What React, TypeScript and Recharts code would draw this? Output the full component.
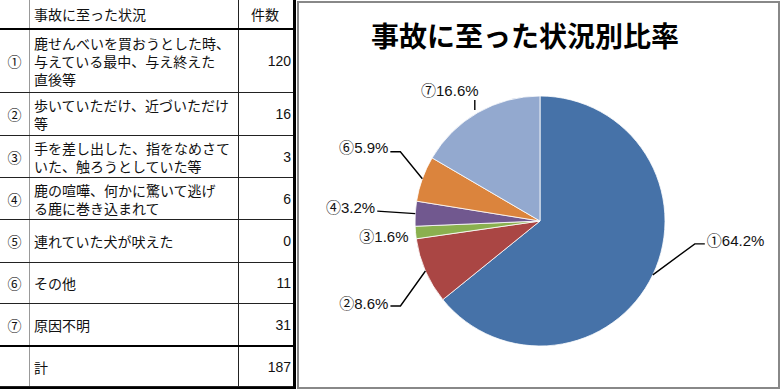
import React from 'react'
import { Cell, Pie, PieChart } from 'recharts'

// 事故に至った状況 (table rows + pie slices)
const marks = ['①', '②', '③', '④', '⑤', '⑥', '⑦']
const situations = [
  '鹿せんべいを買おうとした時、\n与えている最中、与え終えた\n直後等',
  '歩いていただけ、近づいただけ\n等',
  '手を差し出した、指をなめさて\nいた、触ろうとしていた等',
  '鹿の喧嘩、何かに驚いて逃げ\nる鹿に巻き込まれて',
  '連れていた犬が吠えた',
  'その他',
  '原因不明',
]
const counts = [120, 16, 3, 6, 0, 11, 31]
const title = '事故に至った状況別比率'
const headers = ['事故に至った状況', '件数']
const totalLabel = '計'

const colors = ['#4672A8', '#AA4644', '#8AB04F', '#71588F', '#4198AF', '#DB843D', '#93A9CF']

// label placement relative to the slice's outer edge point
const labelLayout: any[] = [
  { line: [[0, 0], [42, -31], [52, -31]], dx: 54, dy: -34, anchor: 'start' },
  { line: [[0, 0], [-25, 35], [-35, 35]], dx: -37, dy: 32, anchor: 'end' },
  { line: null, dx: -7, dy: 4, anchor: 'end' },
  { line: [[0, 0], [-38, -2.5]], dx: -40, dy: -6, anchor: 'end' },
  null,
  { line: [[0, 0], [-22, -27], [-32, -27]], dx: -34, dy: -31, anchor: 'end' },
  { line: [[-3, -2.5], [-3, -12.5]], dx: -28, dy: -22, anchor: 'middle' },
]

const rowHeights = [63, 43, 42, 42, 43, 41, 43]

const total = counts.reduce((a, b) => a + b, 0)
const pieData = marks.map((m, i) => ({ name: m, value: counts[i] }))

const font = "'Noto Sans CJK JP', sans-serif"

const renderLabel = (props: any) => {
  const { cx, cy, midAngle, outerRadius, index, value } = props
  const lay = labelLayout[index]
  if (!value || !lay) return null
  const rad = Math.PI / 180
  const ex = cx + outerRadius * Math.cos(-midAngle * rad)
  const ey = cy + outerRadius * Math.sin(-midAngle * rad)
  const pct = ((value / total) * 100).toFixed(1)
  return (
    <g>
      {lay.line && (
        <polyline
          points={lay.line.map((p: number[]) => `${ex + p[0]},${ey + p[1]}`).join(' ')}
          fill="none"
          stroke="#000"
          strokeWidth={1.4}
        />
      )}
      <text
        x={ex + lay.dx}
        y={ey + lay.dy}
        textAnchor={lay.anchor}
        dominantBaseline="central"
        fontSize={15}
        fill="#111"
        fontFamily="'Liberation Sans', 'Noto Sans CJK JP', sans-serif"
      >
        {marks[index]}
        {pct}%
      </text>
    </g>
  )
}

function Row({ h, mark, text, num, thick, header }: any) {
  return (
    <div
      style={{
        display: 'flex',
        height: h,
        boxSizing: 'border-box',
        borderBottom: thick ? '2px solid #000' : '1px solid #222',
      }}
    >
      <div
        style={{
          width: 30,
          boxSizing: 'border-box',
          borderRight: '1px solid #999',
          display: 'flex',
          alignItems: 'center',
          justifyContent: 'center',
        }}
      >
        {mark}
      </div>
      <div
        style={{
          width: 209,
          boxSizing: 'border-box',
          borderRight: '1px solid #222',
          display: 'flex',
          alignItems: 'center',
          paddingLeft: 4,
          whiteSpace: 'pre',
          lineHeight: '18px',
        }}
      >
        {text}
      </div>
      <div
        style={{
          width: 54,
          boxSizing: 'border-box',
          display: 'flex',
          alignItems: 'center',
          justifyContent: header ? 'center' : 'flex-end',
          paddingRight: 2,
          fontFamily: header ? font : "'Liberation Sans', sans-serif",
        }}
      >
        {num}
      </div>
    </div>
  )
}

export default function App() {
  return (
    <div
      style={{
        position: 'absolute',
        left: 0,
        top: 0,
        width: 780,
        height: 389,
        background: '#fff',
        overflow: 'hidden',
        fontFamily: font,
        fontSize: 14,
        color: '#111',
      }}
    >
      <div
        style={{
          position: 'absolute',
          left: 0,
          top: 0,
          width: 296,
          height: 389,
          boxSizing: 'border-box',
          borderRight: '3px solid #000',
          borderBottom: '2px solid #000',
        }}
      >
        <Row h={30} mark="" text={headers[0]} num={headers[1]} thick header />
        {situations.map((s, i) => (
          <Row key={i} h={rowHeights[i]} mark={marks[i]} text={s} num={counts[i]} thick={i === situations.length - 1} />
        ))}
        <Row h={40} mark="" text={totalLabel} num={total} thick={false} />
      </div>

      <div
        style={{
          position: 'absolute',
          left: 297,
          top: 1,
          width: 483,
          height: 388,
          boxSizing: 'border-box',
          border: '2px solid #888',
        }}
      />

      <div
        style={{
          position: 'absolute',
          left: 300,
          width: 450,
          top: 20,
          textAlign: 'center',
          fontSize: 28,
          lineHeight: '30px',
          fontWeight: 700,
          color: '#000',
        }}
      >
        {title}
      </div>

      <div style={{ position: 'absolute', left: 297, top: 0 }}>
        <PieChart width={483} height={389} margin={{ top: 0, right: 0, bottom: 0, left: 0 }}>
          <Pie
            data={pieData}
            dataKey="value"
            cx={243}
            cy={221}
            outerRadius={125}
            startAngle={90}
            endAngle={-270}
            stroke="#ffffff"
            strokeWidth={0.8}
            label={renderLabel}
            labelLine={false}
            isAnimationActive={false}
          >
            {pieData.map((d, i) => (
              <Cell key={d.name} fill={colors[i]} />
            ))}
          </Pie>
        </PieChart>
      </div>
    </div>
  )
}
